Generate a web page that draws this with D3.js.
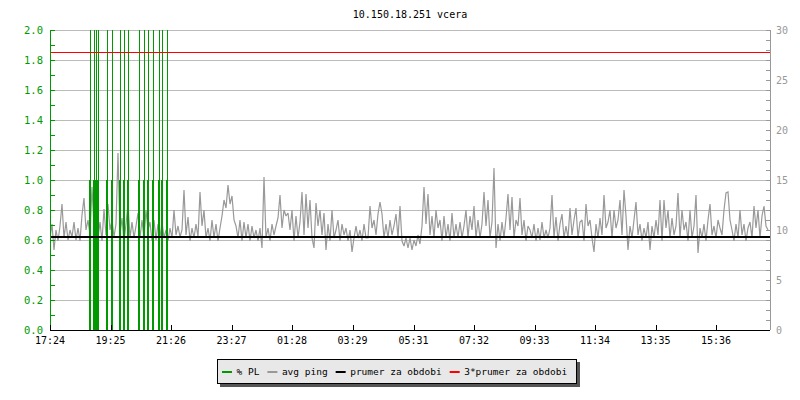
<!DOCTYPE html>
<html>
<head>
<meta charset="utf-8">
<script src="https://cdn.jsdelivr.net/npm/d3@7/dist/d3.min.js"></script>
<style>
  body { margin: 0; background: #fff; }
  text { font-family: "DejaVu Sans Mono", monospace; }
</style>
</head>
<body>
<div id="chart"></div>
<script>
// title and x tick labels (time of day, 24h window starting 17:24)
const title = "10.150.18.251 vcera";
const startTime = "17:24";
const spanMinutes = 1440;
const xTickLabels = ["17:24", "19:25", "21:26", "23:27", "01:28", "03:29",
  "05:31", "07:32", "09:33", "11:34", "13:35", "15:36"];

// avg ping (ms, right axis), one sample every 4 minutes
const pingStep = 4;
const ping = [
  9.2, 10.6, 8.0, 10.0, 8.9, 10.4, 12.6, 9.2, 10.8, 9.0,
  10.0, 9.3, 10.8, 9.0, 10.2, 8.9, 11.5, 13.2, 10.0, 11.0,
  9.5, 14.3, 10.4, 11.2, 9.2, 10.8, 8.9, 12.1, 9.5, 12.6, 10.0, 11.0, 9.3,
  10.6, 17.7, 9.5, 11.2, 8.9, 10.6, 12.6, 9.2, 10.8, 9.2, 10.4,
  11.7, 9.2, 11.0, 9.2, 12.0, 10.0, 10.8, 8.9, 11.0, 9.0, 10.6, 9.3, 10.8, 9.2, 10.0,
  8.9, 10.2, 9.2, 12.0, 9.5, 10.4, 9.3, 10.0, 14.0,
  9.5, 11.3, 8.9, 10.2, 9.2, 10.6, 9.3, 13.8, 10.4, 12.0, 9.2, 10.2,
  8.9, 11.0, 9.2, 10.6, 8.9, 10.2, 11.4, 13.0, 12.2, 14.5, 12.6, 13.4, 11.0,
  10.4, 9.2, 11.0, 8.9, 10.8, 9.2, 10.6, 8.9, 10.4, 9.2, 10.0, 8.9, 10.2,
  8.2, 15.3, 9.2, 10.2, 8.9, 10.6, 9.5, 10.4, 11.2, 13.5, 10.2, 12.0, 11.4, 11.7,

  10.0, 12.0, 8.9, 11.4, 9.2, 10.8, 13.8, 9.5, 13.6,
  10.2, 13.0, 9.2, 8.2, 12.7, 10.4, 12.0, 9.5, 11.7, 8.0, 10.6, 8.9, 12.0,
  9.2, 10.0, 11.0, 8.9, 10.6, 9.5, 10.2, 8.9, 10.0, 7.8,
  9.2, 10.4, 9.2, 10.0, 8.9, 10.6, 9.2, 9.2,
  12.4, 10.2, 11.0, 9.5, 11.6, 12.8, 11.6,
  9.2, 10.6, 9.2, 11.0, 9.5, 10.4, 11.6, 9.2, 12.4,
  8.9, 8.4, 9.2, 8.2, 9.2, 8.0, 9.0, 8.4, 9.5, 8.6, 10.4, 14.3, 10.6, 13.6,
  9.5, 11.4, 9.2, 12.0, 10.2, 11.0, 8.9, 11.4, 9.2, 10.6,
  8.9, 11.7, 9.2, 10.6, 9.2, 10.8, 9.2, 10.4, 12.0, 9.2, 11.4, 10.0, 12.4,
  9.2, 11.0, 9.2, 10.6, 13.8, 10.4, 13.0, 9.2, 10.8, 16.2,
  8.2, 10.6, 8.9, 10.8, 9.2, 11.2, 13.6,
  10.0, 13.3, 9.2, 11.0, 10.4, 13.2, 9.5, 11.0, 8.9, 10.4,

  10.0, 9.2, 10.6, 8.9, 10.2, 9.0, 10.8, 9.2, 10.0, 9.2, 10.2, 13.5,
  9.2, 11.3, 8.9, 10.6, 11.6, 9.2, 10.4, 9.2,
  12.2, 9.5, 11.0, 12.2, 9.2, 10.8, 11.0, 8.9, 12.6, 10.4, 11.0, 9.2, 7.8,
  10.6, 9.2, 11.2, 9.5, 13.5, 10.2, 10.8, 12.0, 9.2, 12.0,
  10.2, 11.0, 13.0, 9.5, 14.0, 11.4, 8.0,
  10.4, 9.2, 11.0, 12.8, 9.5, 10.6, 8.9, 10.2,
  9.2, 10.8, 8.0, 10.4, 9.2, 11.0, 9.5, 13.0, 8.9,
  13.0, 10.2, 12.0, 9.2, 11.2, 9.5, 10.4, 13.7, 9.2, 12.0,
  10.0, 10.8, 8.9, 12.0, 9.2, 10.4, 13.5, 7.7, 10.2, 9.2,
  10.6, 8.9, 11.0, 12.6, 9.5, 10.4, 9.2, 11.0, 10.2, 9.5,
  12.0, 13.7, 13.8, 11.0, 10.0, 8.9, 10.6, 9.2, 12.0, 9.5, 10.6, 8.9, 10.2,
  10.8, 9.2, 12.4, 10.2, 12.0, 9.2, 11.4, 12.4, 10.4, 10.0
];

// packet loss events (minutes after start), level bar and peak (clipped)
const plTimes = [80, 87, 91, 95, 113, 124, 140, 147, 155, 177, 187, 195, 205, 218, 224, 234];
const plLevel = [1, 1, 1, 1, 1, 1, 1, 1, 1, 1, 1, 1, 1, 1, 1, 1];
const plPeak = [100, 100, 100, 100, 100, 100, 100, 100, 100, 100, 100, 100, 100, 100, 100, 100];

// mean ping over the period (ms)
const pingMean = 9.28;

const legendItems = [
  { label: "% PL", color: "#009900" },
  { label: "avg ping", color: "#999999" },
  { label: "prumer za obdobi", color: "#000000" },
  { label: "3*prumer za obdobi", color: "#ff0000" }
];

const width = 800, height = 400;
const plotLeft = 50, plotRight = 770, plotTop = 30, plotBottom = 330;

const svg = d3.select("#chart").append("svg")
  .attr("width", width)
  .attr("height", height);

const x = d3.scaleLinear().domain([0, spanMinutes]).range([plotLeft, plotRight]);
const yL = d3.scaleLinear().domain([0, 2]).range([plotBottom, plotTop]);
const yR = d3.scaleLinear().domain([0, 30]).range([plotBottom, plotTop]);

const toMin = s => { const [h, m] = s.split(":").map(Number); return h * 60 + m; };
const t0 = toMin(startTime);
const tickMinutes = xTickLabels.map(s => ((toMin(s) - t0) % 1440 + 1440) % 1440);

svg.append("defs").append("clipPath").attr("id", "plot")
  .append("rect").attr("x", plotLeft).attr("y", plotTop)
  .attr("width", plotRight - plotLeft).attr("height", plotBottom - plotTop);

// title
svg.append("text")
  .attr("x", (plotLeft + plotRight) / 2).attr("y", 18)
  .attr("text-anchor", "middle")
  .attr("font-size", 10)
  .attr("fill", "#000")
  .text(title);

// horizontal grid
svg.append("g")
  .selectAll("line")
  .data(d3.range(0.2, 2.01, 0.2))
  .enter().append("line")
  .attr("x1", plotLeft).attr("x2", plotRight)
  .attr("y1", d => Math.round(yL(d)) + 0.5)
  .attr("y2", d => Math.round(yL(d)) + 0.5)
  .attr("stroke", "#bbbbbb")
  .attr("shape-rendering", "crispEdges");

const plot = svg.append("g").attr("clip-path", "url(#plot)");

// avg ping line
const pingLine = d3.line()
  .x((d, i) => x(i * pingStep))
  .y(d => yR(d));

plot.append("path")
  .datum(ping)
  .attr("d", pingLine)
  .attr("fill", "none")
  .attr("stroke", "#999999")
  .attr("stroke-width", 1.2)
  .attr("stroke-linejoin", "miter")
  .attr("stroke-miterlimit", 2);

// packet loss
const pl = plTimes.map((t, i) => ({ t, level: plLevel[i], peak: plPeak[i] }));
plot.append("g")
  .selectAll("rect")
  .data(pl)
  .enter().append("rect")
  .attr("x", d => x(d.t) - 1)
  .attr("width", 2)
  .attr("y", d => yL(d.level))
  .attr("height", d => yL(0) - yL(d.level))
  .attr("fill", "#009900")
  .attr("shape-rendering", "crispEdges");

plot.append("g")
  .selectAll("line")
  .data(pl)
  .enter().append("line")
  .attr("x1", d => Math.round(x(d.t)) + 0.5)
  .attr("x2", d => Math.round(x(d.t)) + 0.5)
  .attr("y1", yL(0))
  .attr("y2", d => yL(Math.min(d.peak, 2.2)))
  .attr("stroke", "#009900")
  .attr("shape-rendering", "crispEdges");

// mean and 3*mean
svg.append("line")
  .attr("x1", plotLeft).attr("x2", plotRight)
  .attr("y1", Math.round(yR(pingMean))).attr("y2", Math.round(yR(pingMean)))
  .attr("stroke", "#000").attr("stroke-width", 2)
  .attr("shape-rendering", "crispEdges");

svg.append("line")
  .attr("x1", plotLeft).attr("x2", plotRight)
  .attr("y1", Math.round(yR(3 * pingMean)) + 0.5).attr("y2", Math.round(yR(3 * pingMean)) + 0.5)
  .attr("stroke", "#ff0000").attr("stroke-width", 1)
  .attr("shape-rendering", "crispEdges");

// left axis (green)
const leftAxis = svg.append("g").attr("transform", `translate(${plotLeft},0)`);
leftAxis.append("line")
  .attr("x1", 0.5).attr("x2", 0.5).attr("y1", plotTop).attr("y2", plotBottom)
  .attr("stroke", "#009900").attr("shape-rendering", "crispEdges");
leftAxis.selectAll(".tk")
  .data(d3.range(0, 2.01, 0.1))
  .enter().append("line")
  .attr("x1", 0).attr("x2", 5)
  .attr("y1", d => Math.round(yL(d)) + 0.5)
  .attr("y2", d => Math.round(yL(d)) + 0.5)
  .attr("stroke", "#009900").attr("shape-rendering", "crispEdges");
leftAxis.selectAll("text")
  .data(d3.range(0, 2.01, 0.2))
  .enter().append("text")
  .attr("x", -7)
  .attr("y", d => yL(d) + 4)
  .attr("text-anchor", "end")
  .attr("font-size", 10.5)
  .attr("fill", "#009900")
  .text(d => d3.format(".1f")(d));

// right axis (gray)
const rightAxis = svg.append("g").attr("transform", `translate(${plotRight},0)`);
rightAxis.append("line")
  .attr("x1", 0.5).attr("x2", 0.5).attr("y1", plotTop).attr("y2", plotBottom)
  .attr("stroke", "#999999").attr("shape-rendering", "crispEdges");
rightAxis.selectAll(".tk")
  .data(d3.range(0, 31, 1))
  .enter().append("line")
  .attr("x1", -4).attr("x2", 0)
  .attr("y1", d => Math.round(yR(d)) + 0.5)
  .attr("y2", d => Math.round(yR(d)) + 0.5)
  .attr("stroke", "#999999").attr("shape-rendering", "crispEdges");
rightAxis.selectAll("text")
  .data(d3.range(0, 31, 5))
  .enter().append("text")
  .attr("x", 6)
  .attr("y", d => yR(d) + 4)
  .attr("font-size", 10)
  .attr("fill", "#999999")
  .text(d => d);

// bottom axis
const xAxis = svg.append("g");
xAxis.append("line")
  .attr("x1", plotLeft).attr("x2", plotRight)
  .attr("y1", plotBottom + 0.5).attr("y2", plotBottom + 0.5)
  .attr("stroke", "#000").attr("shape-rendering", "crispEdges");
xAxis.selectAll(".tk")
  .data(tickMinutes)
  .enter().append("line")
  .attr("x1", d => Math.round(x(d)) + 0.5)
  .attr("x2", d => Math.round(x(d)) + 0.5)
  .attr("y1", plotBottom - 5).attr("y2", plotBottom)
  .attr("stroke", "#000").attr("shape-rendering", "crispEdges");
xAxis.selectAll("text")
  .data(tickMinutes)
  .enter().append("text")
  .attr("x", d => x(d))
  .attr("y", plotBottom + 14)
  .attr("text-anchor", "middle")
  .attr("font-size", 10)
  .attr("fill", "#000")
  .text((d, i) => xTickLabels[i]);

// legend
const lg = svg.append("g");
const lgX = 217, lgY = 359, lgH = 24;
const shadow = lg.append("rect").attr("fill", "#555555");
const box = lg.append("rect").attr("fill", "#e8e8e8").attr("stroke", "#000")
  .attr("shape-rendering", "crispEdges");
let cx = lgX + 5;
legendItems.forEach(it => {
  lg.append("rect")
    .attr("x", cx).attr("y", 371)
    .attr("width", 10).attr("height", 2)
    .attr("fill", it.color);
  const t = lg.append("text")
    .attr("x", cx + 14.5).attr("y", 375)
    .attr("font-size", 9.5)
    .attr("fill", "#000")
    .text(it.label);
  cx += 14.5 + t.node().getComputedTextLength() + 8;
});
const lgW = Math.round(cx - 8 + 9 - lgX);
box.attr("x", lgX + 0.5).attr("y", lgY + 0.5).attr("width", lgW).attr("height", lgH);
shadow.attr("x", lgX + 3).attr("y", lgY + 3).attr("width", lgW + 1).attr("height", lgH + 1);
</script>
</body>
</html>
